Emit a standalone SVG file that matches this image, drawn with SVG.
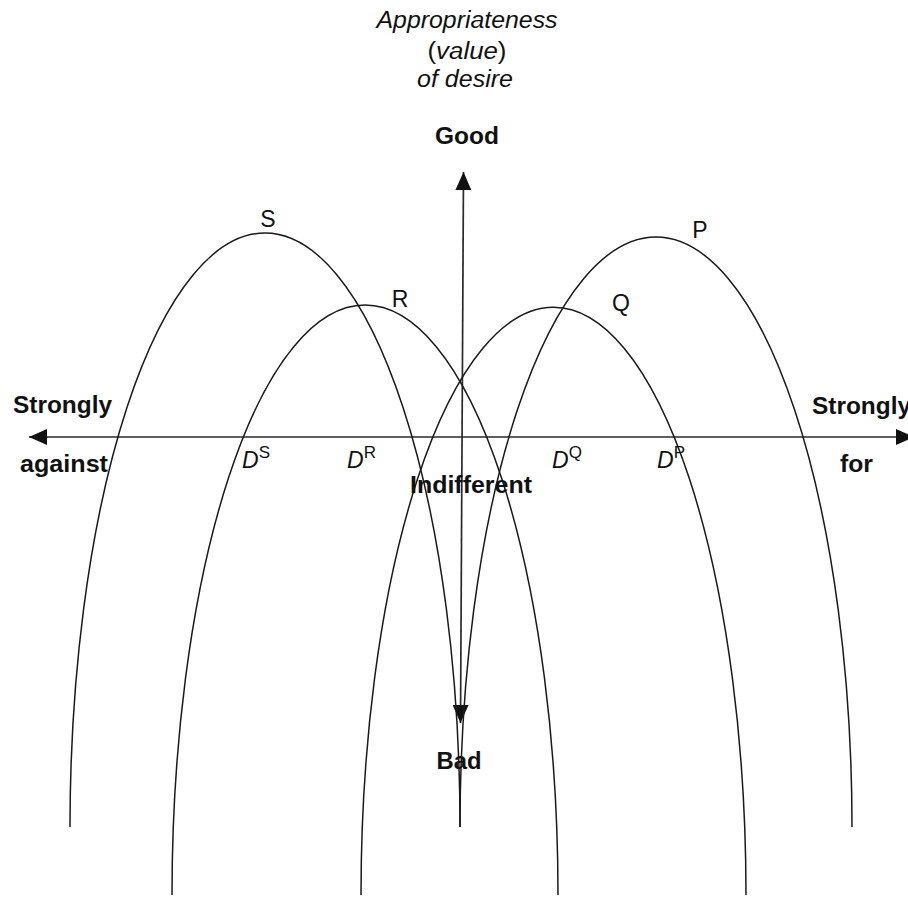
<svg xmlns="http://www.w3.org/2000/svg" width="908" height="898" viewBox="0 0 908 898">
  <style>
    .curve { fill: none; stroke: #1a1a1a; stroke-width: 1.5; }
    .axis { fill: none; stroke: #2a2a2a; stroke-width: 1.7; }
    text { font-family: "Liberation Sans", Arial, sans-serif; fill: #111; }
    .b { font-weight: bold; font-size: 23px; }
    .it { font-style: italic; font-size: 23px; }
    .lbl { font-size: 23px; }
    .sup { font-size: 17px; }
  </style>
  <defs>
    <marker id="arrow" viewBox="0 0 18 16" refX="18" refY="8" markerWidth="18" markerHeight="16" markerUnits="userSpaceOnUse" orient="auto-start-reverse">
      <path d="M0,0 L18,8 L0,16 z" fill="#111"/>
    </marker>
  </defs>
  <rect width="908" height="898" fill="#fff"/>

  <g id="connectors">
    <line id="axis-horizontal" class="axis" x1="29" y1="437" x2="914" y2="437" marker-start="url(#arrow)" marker-end="url(#arrow)"/>
    <line id="axis-vertical" class="axis" x1="463.5" y1="172" x2="460.5" y2="723" marker-start="url(#arrow)" marker-end="url(#arrow)"/>
  </g>

  <g id="curve-S"><path class="curve" d="M 70 827 A 195 594 0 0 1 460 827"/><text class="lbl" x="268" y="227" text-anchor="middle">S</text></g>
  <g id="curve-R"><path class="curve" d="M 172 895 A 193 590 0 0 1 558 895"/><text class="lbl" x="400" y="307" text-anchor="middle">R</text></g>
  <g id="curve-Q"><path class="curve" d="M 361 895 A 192.5 588 0 0 1 746 895"/><text class="lbl" x="621" y="311" text-anchor="middle">Q</text></g>
  <g id="curve-P"><path class="curve" d="M 460 827 A 196 590 0 0 1 852 827"/><text class="lbl" x="700" y="238" text-anchor="middle">P</text></g>

  <g id="title">
    <text class="it" x="467" y="28" text-anchor="middle" textLength="181" lengthAdjust="spacingAndGlyphs">Appropriateness</text>
    <text class="lbl" x="467" y="59" text-anchor="middle" textLength="79" lengthAdjust="spacingAndGlyphs">(<tspan font-style="italic">value</tspan>)</text>
    <text class="it" x="465" y="87" text-anchor="middle" textLength="96" lengthAdjust="spacingAndGlyphs">of desire</text>
  </g>

  <g id="label-good"><text class="b" x="467" y="144" text-anchor="middle" textLength="64" lengthAdjust="spacingAndGlyphs">Good</text></g>
  <g id="label-bad"><text class="b" x="459" y="769" text-anchor="middle" textLength="45" lengthAdjust="spacingAndGlyphs">Bad</text></g>
  <g id="label-indifferent"><text class="b" x="471" y="493" text-anchor="middle" textLength="122" lengthAdjust="spacingAndGlyphs">Indifferent</text></g>
  <g id="label-against"><text class="b" x="13" y="413" textLength="99" lengthAdjust="spacingAndGlyphs">Strongly</text><text class="b" x="20" y="472" textLength="88" lengthAdjust="spacingAndGlyphs">against</text></g>
  <g id="label-for"><text class="b" x="812" y="414" textLength="99" lengthAdjust="spacingAndGlyphs">Strongly</text><text class="b" x="840" y="472" textLength="33" lengthAdjust="spacingAndGlyphs">for</text></g>

  <g id="desire-labels">
    <text class="it" x="242" y="468">D<tspan class="sup" font-style="normal" dy="-10">S</tspan></text>
    <text class="it" x="347" y="468">D<tspan class="sup" font-style="normal" dy="-10">R</tspan></text>
    <text class="it" x="552" y="468">D<tspan class="sup" font-style="normal" dy="-10">Q</tspan></text>
    <text class="it" x="657" y="468">D<tspan class="sup" font-style="normal" dy="-10">P</tspan></text>
  </g>
</svg>
